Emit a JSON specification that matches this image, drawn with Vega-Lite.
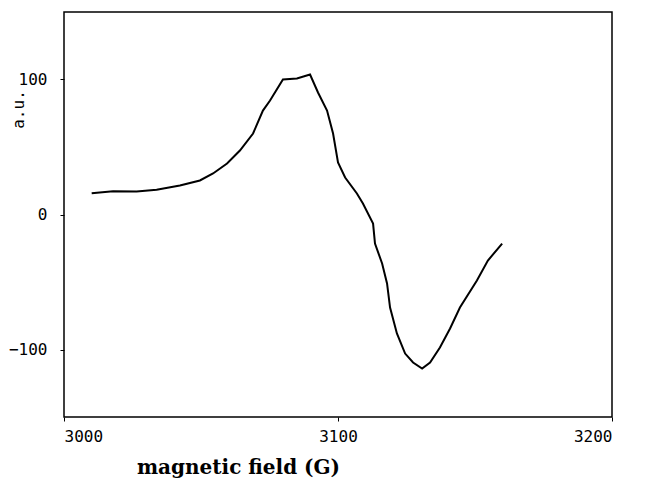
{
  "$schema": "https://vega.github.io/schema/vega-lite/v6.json",
  "width": 548,
  "height": 405,
  "autosize": {"type": "none"},
  "padding": {"left": 64, "top": 12, "right": 37, "bottom": 68},
  "background": "white",
  "config": {
    "view": {"stroke": "black", "strokeWidth": 1.5},
    "axis": {"grid": false, "domain": false, "tickColor": "black", "labelColor": "black", "titleColor": "black"}
  },
  "data": {
    "values": [
      {"field": 3010.1, "signal": 15.8},
      {"field": 3017.9, "signal": 17.3},
      {"field": 3026.5, "signal": 17.0},
      {"field": 3033.8, "signal": 18.3},
      {"field": 3042.3, "signal": 21.5},
      {"field": 3049.6, "signal": 25.2},
      {"field": 3054.4, "signal": 30.4},
      {"field": 3059.5, "signal": 37.8},
      {"field": 3064.2, "signal": 47.4},
      {"field": 3069.0, "signal": 60.0},
      {"field": 3072.6, "signal": 77.0},
      {"field": 3075.2, "signal": 84.4},
      {"field": 3079.9, "signal": 100.0},
      {"field": 3085.0, "signal": 100.7},
      {"field": 3089.8, "signal": 103.7},
      {"field": 3092.7, "signal": 90.4},
      {"field": 3096.0, "signal": 77.0},
      {"field": 3098.2, "signal": 60.0},
      {"field": 3100.0, "signal": 38.5},
      {"field": 3102.6, "signal": 27.4},
      {"field": 3106.9, "signal": 15.6},
      {"field": 3109.1, "signal": 8.1},
      {"field": 3112.8, "signal": -6.7},
      {"field": 3113.5, "signal": -21.5},
      {"field": 3116.1, "signal": -36.3},
      {"field": 3117.9, "signal": -51.1},
      {"field": 3119.0, "signal": -68.9},
      {"field": 3121.5, "signal": -88.1},
      {"field": 3124.5, "signal": -103.0},
      {"field": 3127.4, "signal": -109.6},
      {"field": 3130.7, "signal": -114.1},
      {"field": 3133.6, "signal": -109.6},
      {"field": 3137.2, "signal": -98.5},
      {"field": 3140.9, "signal": -84.4},
      {"field": 3144.5, "signal": -68.9},
      {"field": 3150.7, "signal": -48.9},
      {"field": 3154.7, "signal": -34.1},
      {"field": 3159.9, "signal": -21.5}
    ]
  },
  "mark": {"type": "line", "color": "black", "strokeWidth": 2},
  "encoding": {
    "x": {
      "field": "field", "type": "quantitative",
      "scale": {"domain": [3000, 3200], "nice": false, "zero": false},
      "axis": {
        "values": [3000, 3100, 3200], "format": "d",
        "tickSize": 4, "labelPadding": 7, "labelDx": 15,
        "labelFont": "DejaVu Sans Mono", "labelFontSize": 16,
        "title": "magnetic field (G)", "titleFont": "DejaVu Serif", "titleFontSize": 20, "titleFontWeight": "bold",
        "titleX": 174, "titleY": 50, "titleAnchor": "middle", "titleBaseline": "middle"
      }
    },
    "y": {
      "field": "signal", "type": "quantitative",
      "scale": {"domain": [-150, 150], "nice": false},
      "axis": {
        "values": [-100, 0, 100], "format": "d",
        "tickSize": 4, "labelPadding": 13, "labelDy": -5,
        "labelFont": "DejaVu Sans Mono", "labelFontSize": 16,
        "title": "a.u.", "titleFont": "DejaVu Sans Mono", "titleFontSize": 16, "titleFontWeight": "normal",
        "titleX": -46, "titleY": 97, "titleAngle": -90, "titleAnchor": "middle", "titleBaseline": "middle"
      }
    }
  }
}
